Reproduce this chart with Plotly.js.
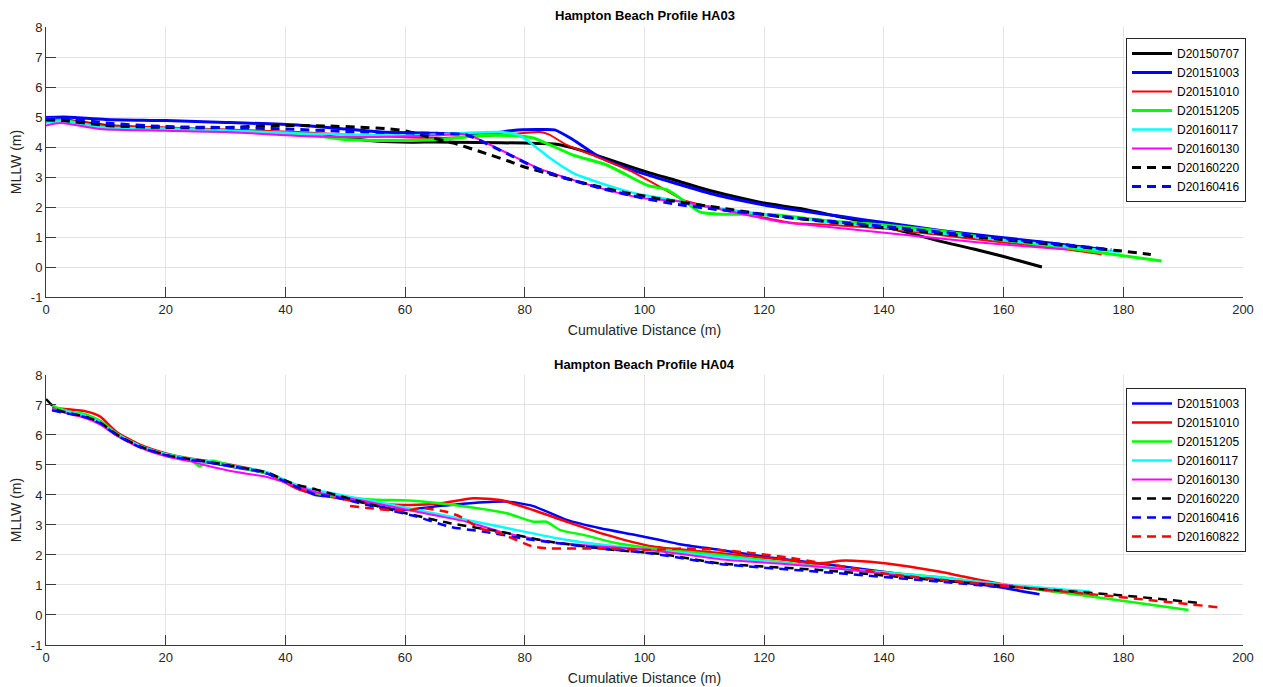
<!DOCTYPE html>
<html><head><meta charset="utf-8">
<script src="https://cdn.plot.ly/plotly-3.0.1.min.js"></script>
<style>html,body{margin:0;padding:0;background:#fff}#chart{width:1263px;height:687px}</style>
</head><body><div id="chart"></div>
<script>
// ---------- Tick labels ----------
const xTickVals = [0, 20, 40, 60, 80, 100, 120, 140, 160, 180, 200];
const yTickVals = [-1, 0, 1, 2, 3, 4, 5, 6, 7, 8];

// ---------- HA03 profile data (Cumulative Distance m, MLLW m) ----------
const ha03_names = ['D20150707','D20151003','D20151010','D20151205','D20160117','D20160130','D20160220','D20160416'];

const ha03_D20150707_x = [0, 3, 10, 20, 30, 42, 50, 55, 61, 65, 72, 80, 85, 88, 92, 96, 101, 105, 110, 115, 120, 126, 132, 138, 143, 149, 155, 160, 166.4];
const ha03_D20150707_y = [4.88, 4.9, 4.72, 4.62, 4.55, 4.45, 4.3, 4.2, 4.16, 4.17, 4.15, 4.13, 4.1, 3.97, 3.72, 3.45, 3.13, 2.9, 2.6, 2.35, 2.13, 1.95, 1.7, 1.45, 1.2, 0.88, 0.6, 0.35, 0.0];

const ha03_D20151003_x = [0, 3, 10, 20, 30, 42, 50, 56, 63, 70, 75, 78, 82, 85, 88, 92.6, 98, 105, 112, 120, 126, 133, 140, 149.4, 158, 166, 176];
const ha03_D20151003_y = [4.98, 5.0, 4.92, 4.88, 4.82, 4.73, 4.6, 4.5, 4.47, 4.44, 4.47, 4.55, 4.58, 4.57, 4.25, 3.65, 3.23, 2.8, 2.4, 2.07, 1.88, 1.68, 1.48, 1.22, 1.02, 0.84, 0.6];

const ha03_D20151010_x = [0, 3, 10, 20, 30, 42, 50, 59, 65, 72, 77, 82.5, 84, 87, 92.6, 98, 102.6, 106.5, 112, 120.4, 124.8, 130, 140, 150, 160, 170, 176.4];
const ha03_D20151010_y = [4.88, 4.9, 4.72, 4.65, 4.58, 4.5, 4.42, 4.33, 4.3, 4.35, 4.42, 4.5, 4.42, 4.07, 3.63, 3.17, 2.67, 2.23, 1.97, 1.63, 1.47, 1.42, 1.28, 1.05, 0.82, 0.6, 0.42];

const ha03_D20151205_x = [0, 3, 10, 20, 30, 42, 50, 55, 61, 67, 72.5, 77.5, 81.4, 84.2, 88.1, 93.7, 100.4, 103.8, 107.1, 109.3, 112, 117.6, 122, 130, 140, 149.4, 158.9, 170, 179.4, 186.4];
const ha03_D20151205_y = [4.85, 4.88, 4.62, 4.58, 4.52, 4.45, 4.25, 4.22, 4.22, 4.27, 4.38, 4.38, 4.3, 4.07, 3.73, 3.4, 2.73, 2.57, 2.13, 1.83, 1.77, 1.75, 1.73, 1.55, 1.4, 1.2, 0.92, 0.65, 0.39, 0.2];

const ha03_D20160117_x = [0, 3, 10, 20, 30, 42, 50, 59, 65, 70, 76, 79, 81.4, 84.2, 88.1, 92.6, 98.1, 104.8, 109.3, 115, 122, 130, 140, 150, 160, 170, 179.4];
const ha03_D20160117_y = [4.82, 4.85, 4.65, 4.62, 4.55, 4.45, 4.42, 4.38, 4.42, 4.47, 4.5, 4.4, 4.07, 3.63, 3.13, 2.8, 2.47, 2.23, 2.03, 1.88, 1.7, 1.52, 1.33, 1.12, 0.9, 0.7, 0.5];

const ha03_D20160130_x = [0, 2.5, 9, 20, 30, 42.4, 50, 59, 65, 70.3, 76, 82.5, 87, 92.6, 99.7, 106.5, 114.8, 122.6, 130, 140.5, 149.4, 156, 163, 170.6];
const ha03_D20160130_y = [4.72, 4.8, 4.6, 4.54, 4.5, 4.37, 4.33, 4.35, 4.38, 4.42, 3.9, 3.27, 2.97, 2.63, 2.3, 2.17, 1.83, 1.51, 1.35, 1.13, 0.95, 0.82, 0.7, 0.58];

const ha03_D20160220_x = [0, 3, 10, 20, 30, 39, 47, 52.5, 57.5, 60.3, 63.6, 68.1, 72.5, 77, 79.7, 84.7, 89.8, 97, 103.8, 112.6, 122.6, 130, 140.5, 149.4, 158.9, 170, 179.4, 184.6];
const ha03_D20160220_y = [4.9, 4.88, 4.72, 4.65, 4.65, 4.72, 4.7, 4.66, 4.6, 4.53, 4.35, 4.13, 3.85, 3.55, 3.35, 3.07, 2.8, 2.47, 2.23, 1.97, 1.68, 1.52, 1.3, 1.12, 0.93, 0.72, 0.54, 0.42];

const ha03_D20160416_x = [0, 3, 10, 20, 30, 40, 50, 60, 66, 70.3, 76, 82.5, 87, 92.6, 99.7, 105, 112, 120, 126, 135, 145, 155, 165, 178];
const ha03_D20160416_y = [4.95, 4.97, 4.8, 4.68, 4.65, 4.6, 4.52, 4.47, 4.45, 4.4, 3.88, 3.25, 2.95, 2.63, 2.3, 2.1, 1.92, 1.75, 1.62, 1.45, 1.25, 1.05, 0.85, 0.58];

// ---------- HA04 profile data ----------
const ha04_names = ['D20151003','D20151010','D20151205','D20160117','D20160130','D20160220','D20160416','D20160822'];

const ha04_D20151003_x = [1, 3.5, 6.8, 9, 11.8, 15.7, 20.2, 24.1, 26.8, 31.3, 36.9, 41.3, 45, 48, 53, 59.1, 64.7, 70.3, 77, 81.4, 87, 92.6, 98.1, 102.6, 105.9, 112.6, 121, 129.3, 137, 146, 152, 158.8, 166];
const ha04_D20151003_y = [6.85, 6.75, 6.6, 6.4, 6.0, 5.62, 5.33, 5.18, 5.1, 4.93, 4.72, 4.3, 4.0, 3.94, 3.75, 3.5, 3.61, 3.72, 3.78, 3.63, 3.17, 2.89, 2.68, 2.5, 2.36, 2.17, 1.92, 1.72, 1.52, 1.28, 1.12, 0.94, 0.69];

const ha04_D20151010_x = [1, 3.5, 6.8, 9, 11.8, 15.7, 20.2, 24.1, 26.8, 31.3, 36.9, 42.4, 48, 53.6, 60.8, 65.8, 71.4, 75.9, 81.4, 87, 93.7, 101.4, 112.6, 123.8, 128.2, 130.4, 132.7, 134.9, 140.5, 149.4, 153.3, 160.5, 175];
const ha04_D20151010_y = [6.9, 6.86, 6.78, 6.62, 6.1, 5.68, 5.38, 5.22, 5.14, 4.99, 4.74, 4.17, 3.92, 3.72, 3.67, 3.72, 3.89, 3.83, 3.5, 3.11, 2.67, 2.28, 2.06, 1.83, 1.72, 1.74, 1.81, 1.81, 1.72, 1.44, 1.28, 1.0, 0.63];

const ha04_D20151205_x = [0.5, 2, 4, 6.8, 9, 11.8, 15.7, 20.2, 24, 25.7, 26.8, 28, 31.3, 36.9, 41.3, 45.2, 53.6, 61.9, 70.3, 77, 81.4, 83.6, 85.9, 89.8, 95.4, 101.4, 112.6, 129.3, 149.4, 164.4, 178.9, 190.9];
const ha04_D20151205_y = [7.05, 6.9, 6.78, 6.68, 6.48, 6.05, 5.64, 5.35, 5.2, 4.95, 5.1, 5.14, 4.96, 4.72, 4.38, 4.06, 3.86, 3.8, 3.61, 3.39, 3.11, 3.11, 2.83, 2.67, 2.39, 2.22, 2.0, 1.61, 1.26, 0.89, 0.5, 0.17];

const ha04_D20160117_x = [1, 3.5, 6.8, 9, 11.8, 15.7, 20.2, 24.1, 26.8, 31.3, 36.9, 42.4, 48, 53.6, 64.7, 75.9, 87, 98.1, 112.6, 129.3, 149.4, 160, 174.4];
const ha04_D20160117_y = [6.85, 6.78, 6.62, 6.42, 6.03, 5.64, 5.35, 5.2, 5.13, 4.96, 4.76, 4.28, 4.05, 3.83, 3.39, 2.94, 2.5, 2.22, 1.95, 1.6, 1.25, 1.02, 0.78];

const ha04_D20160130_x = [1, 3.5, 6.8, 9, 11.8, 15.7, 20.2, 24.1, 26.8, 31.3, 36.9, 41.3, 45, 53.6, 64.7, 70.3, 75.9, 84.2, 92.6, 100.9, 112.6, 129.3, 149.4, 161.6];
const ha04_D20160130_y = [6.88, 6.72, 6.55, 6.35, 5.98, 5.58, 5.28, 5.12, 4.98, 4.78, 4.6, 4.33, 4.1, 3.78, 3.33, 3.11, 2.78, 2.44, 2.28, 2.17, 1.86, 1.61, 1.17, 0.98];

const ha04_D20160220_x = [0, 1.8, 3.5, 6.8, 9, 11.8, 15.7, 20.2, 24.1, 26.8, 31.3, 36.9, 41.3, 45.2, 53.6, 59.1, 67.5, 75.9, 84.2, 95.9, 102.6, 112.6, 129.3, 148.3, 164.4, 178.9, 192.3];
const ha04_D20160220_y = [7.2, 6.85, 6.75, 6.6, 6.42, 6.02, 5.62, 5.33, 5.19, 5.12, 4.96, 4.75, 4.38, 4.18, 3.72, 3.44, 3.06, 2.78, 2.44, 2.15, 2.04, 1.72, 1.5, 1.17, 0.89, 0.67, 0.41];

const ha04_D20160416_x = [1, 3.5, 6.8, 9, 11.8, 15.7, 20.2, 24.1, 26.8, 31.3, 36.9, 41.3, 45, 48, 53.6, 61.9, 67.5, 73, 81.4, 92.6, 100.9, 112.6, 129.3, 149.4, 160];
const ha04_D20160416_y = [6.82, 6.72, 6.58, 6.4, 6.0, 5.6, 5.32, 5.17, 5.1, 4.95, 4.72, 4.32, 4.02, 3.94, 3.67, 3.28, 2.94, 2.78, 2.5, 2.22, 2.06, 1.7, 1.44, 1.11, 0.92];

const ha04_D20160822_x = [50.8, 54.1, 57.5, 60.8, 63, 66.9, 69.2, 72.5, 75.9, 81.4, 84.2, 92.6, 100.9, 107, 112.6, 118.1, 123.8, 129.3, 134.9, 140.5, 148.8, 164.4, 178.9, 196.7];
const ha04_D20160822_y = [3.63, 3.56, 3.5, 3.5, 3.56, 3.44, 3.28, 2.89, 2.72, 2.28, 2.22, 2.22, 2.17, 2.22, 2.17, 2.06, 1.92, 1.74, 1.56, 1.37, 1.19, 0.89, 0.61, 0.24];

// ---------- Build traces ----------
const DATA = {
  ha03: {D20150707:[ha03_D20150707_x, ha03_D20150707_y], D20151003:[ha03_D20151003_x, ha03_D20151003_y],
         D20151010:[ha03_D20151010_x, ha03_D20151010_y], D20151205:[ha03_D20151205_x, ha03_D20151205_y],
         D20160117:[ha03_D20160117_x, ha03_D20160117_y], D20160130:[ha03_D20160130_x, ha03_D20160130_y],
         D20160220:[ha03_D20160220_x, ha03_D20160220_y], D20160416:[ha03_D20160416_x, ha03_D20160416_y]},
  ha04: {D20151003:[ha04_D20151003_x, ha04_D20151003_y], D20151010:[ha04_D20151010_x, ha04_D20151010_y],
         D20151205:[ha04_D20151205_x, ha04_D20151205_y], D20160117:[ha04_D20160117_x, ha04_D20160117_y],
         D20160130:[ha04_D20160130_x, ha04_D20160130_y], D20160220:[ha04_D20160220_x, ha04_D20160220_y],
         D20160416:[ha04_D20160416_x, ha04_D20160416_y], D20160822:[ha04_D20160822_x, ha04_D20160822_y]}
};
const STYLE = {
  D20150707:{c:'#000000', d:'solid', w3:3,   w4:2.5},
  D20151003:{c:'#0000ff', d:'solid', w3:3,   w4:2.5},
  D20151010:{c:'#ff0000', d:'solid', w3:2,   w4:2.5},
  D20151205:{c:'#00ff00', d:'solid', w3:3,   w4:2.5},
  D20160117:{c:'#00ffff', d:'solid', w3:2.5, w4:2.5},
  D20160130:{c:'#ff00ff', d:'solid', w3:2,   w4:2},
  D20160220:{c:'#000000', d:'9px,6px', w3:3, w4:2.5},
  D20160416:{c:'#0000ff', d:'9px,6px', w3:3, w4:2.5},
  D20160822:{c:'#ff0000', d:'9px,6px', w3:3, w4:2.5}
};
const traces = [];
ha03_names.forEach(n => {
  const s = STYLE[n];
  traces.push({type:'scatter', mode:'lines', name:n, x:DATA.ha03[n][0], y:DATA.ha03[n][1],
    xaxis:'x', yaxis:'y', legend:'legend', line:{color:s.c, width:s.w3, dash:s.d, shape:'spline', smoothing:0.6}});
});
ha04_names.forEach(n => {
  const s = STYLE[n];
  traces.push({type:'scatter', mode:'lines', name:n, x:DATA.ha04[n][0], y:DATA.ha04[n][1],
    xaxis:'x2', yaxis:'y2', legend:'legend2', line:{color:s.c, width:s.w4, dash:s.d, shape:'spline', smoothing:0.6}});
});

const AX = {
  showgrid:true, gridcolor:'#e3e3e3', gridwidth:1, zeroline:false,
  showline:true, linecolor:'#3a3a3a', linewidth:1, mirror:false,
  ticks:'inside', ticklen:10, tickcolor:'#3a3a3a', tickwidth:1,
  tickfont:{size:13, color:'#262626'}, fixedrange:true
};
const XAX = Object.assign({}, AX, {range:[0,200], tickvals:xTickVals, ticktext:xTickVals.map(String),
  title:{text:'Cumulative Distance (m)', font:{size:14, color:'#262626'}, standoff:9}});
const YAX = Object.assign({}, AX, {range:[-1,8], tickvals:yTickVals, ticktext:yTickVals.map(String),
  title:{text:'MLLW (m)', font:{size:14, color:'#262626'}, standoff:5}});

const LEG = {bgcolor:'#ffffff', bordercolor:'#262626', borderwidth:1, font:{size:12, color:'#000'},
  xref:'paper', yref:'paper', xanchor:'right', yanchor:'top', itemwidth:40, traceorder:'normal'};

const layout = {
  width:1263, height:687,
  margin:{l:46, r:20, t:27, b:42},
  paper_bgcolor:'#ffffff', plot_bgcolor:'#ffffff',
  font:{family:'"Liberation Sans", Arial, Helvetica, sans-serif', size:13, color:'#262626'},
  showlegend:true,
  xaxis:Object.assign({}, XAX, {domain:[0,1], anchor:'y'}),
  yaxis:Object.assign({}, YAX, {domain:[0.5631,1], anchor:'x'}),
  xaxis2:Object.assign({}, XAX, {domain:[0,1], anchor:'y2'}),
  yaxis2:Object.assign({}, YAX, {domain:[0,0.4369], anchor:'x2'}),
  legend:Object.assign({}, LEG, {x:1.0025, y:0.982}),
  legend2:Object.assign({}, LEG, {x:1.0025, y:0.4159}),
  annotations:[
    {text:'<b>Hampton Beach Profile HA03</b>', xref:'paper', yref:'paper', x:0.5, y:1.0194,
     xanchor:'center', yanchor:'middle', showarrow:false, font:{size:13, color:'#000'}},
    {text:'<b>Hampton Beach Profile HA04</b>', xref:'paper', yref:'paper', x:0.5, y:0.4531,
     xanchor:'center', yanchor:'middle', showarrow:false, font:{size:13, color:'#000'}}
  ]
};
Plotly.newPlot('chart', traces, layout, {displayModeBar:false, staticPlot:true});
</script></body></html>
